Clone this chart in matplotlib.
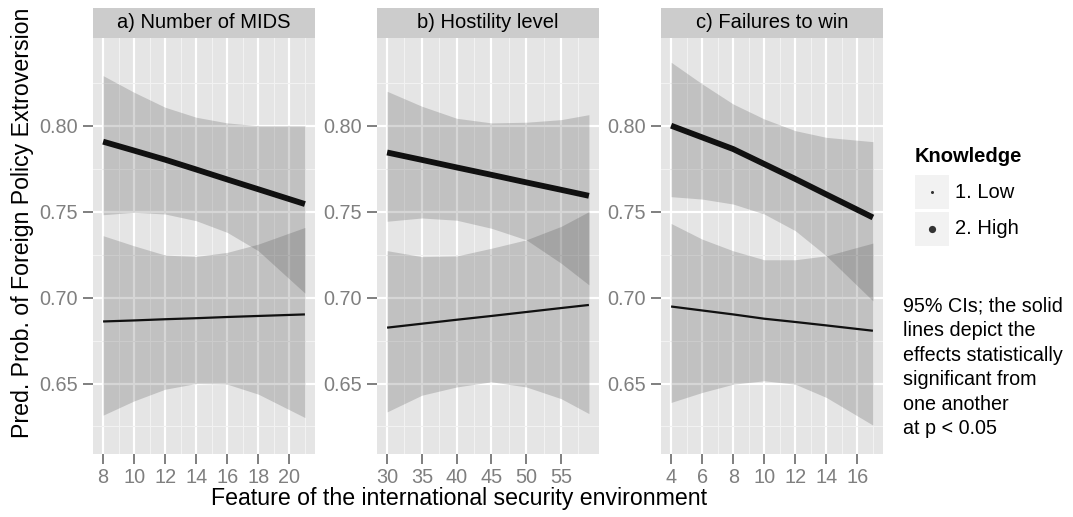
"""predicted probability of foreign policy extroversion, three facets"""

import matplotlib.pyplot as plt
from matplotlib.patches import Rectangle
from matplotlib.lines import Line2D

plt.rcParams['font.family'] = ['Liberation Sans', 'DejaVu Sans']

W, H = 1073, 517

## a) number of MIDS
mids_x = [8, 10, 12, 14, 16, 18, 21]
mids_high = [0.7907, 0.7855, 0.7802, 0.7745, 0.7687, 0.7630, 0.7544]
mids_high_hi = [0.8291, 0.8194, 0.8107, 0.8049, 0.8016, 0.8000, 0.8000]
mids_high_lo = [0.7482, 0.7496, 0.7486, 0.7447, 0.7379, 0.7272, 0.7026]
mids_low = [0.6861, 0.6867, 0.6874, 0.6880, 0.6887, 0.6893, 0.6902]
mids_low_hi = [0.7360, 0.7301, 0.7247, 0.7239, 0.7263, 0.7311, 0.7408]
mids_low_lo = [0.6316, 0.6399, 0.6467, 0.6500, 0.6496, 0.6438, 0.6302]
mids_ticks = [8, 10, 12, 14, 16, 18, 20]

## b) hostility level
host_x = [30, 35, 40, 45, 50, 55, 59]
host_high = [0.7844, 0.7801, 0.7757, 0.7714, 0.7670, 0.7627, 0.7592]
host_high_hi = [0.8200, 0.8113, 0.8043, 0.8016, 0.8020, 0.8035, 0.8064]
host_high_lo = [0.7444, 0.7463, 0.7450, 0.7403, 0.7336, 0.7200, 0.7074]
host_low = [0.6825, 0.6848, 0.6871, 0.6893, 0.6916, 0.6939, 0.6957]
host_low_hi = [0.7273, 0.7238, 0.7242, 0.7287, 0.7336, 0.7414, 0.7500]
host_low_lo = [0.6335, 0.6432, 0.6480, 0.6510, 0.6480, 0.6412, 0.6325]
host_ticks = [30, 35, 40, 45, 50, 55]

## c) failures to win
fail_x = [4, 6, 8, 10, 12, 14, 17]
fail_high = [0.8000, 0.7932, 0.7864, 0.7777, 0.7690, 0.7600, 0.7466]
fail_high_hi = [0.8369, 0.8243, 0.8126, 0.8039, 0.7971, 0.7932, 0.7907]
fail_high_lo = [0.7587, 0.7573, 0.7544, 0.7486, 0.7389, 0.7243, 0.6981]
fail_low = [0.6948, 0.6925, 0.6902, 0.6877, 0.6858, 0.6838, 0.6807]
fail_low_hi = [0.7431, 0.7340, 0.7272, 0.7220, 0.7220, 0.7243, 0.7317]
fail_low_lo = [0.6390, 0.6448, 0.6496, 0.6516, 0.6496, 0.6419, 0.6258]
fail_ticks = [4, 6, 8, 10, 12, 14, 16]

y_ticks = [0.65, 0.70, 0.75, 0.80]
y_minor = [0.625, 0.675, 0.725, 0.775, 0.825]

knowledge_labels = ["1. Low", "2. High"]
note = "95% CIs; the solid\nlines depict the\neffects statistically\nsignificant from\none another\nat p < 0.05"

GREY50 = '#7F7F7F'
LINE_COL = '#111111'
BAND_COL = '#333333'


def draw_panel(left, title, x, high, high_hi, high_lo, low, low_hi, low_lo,
               ticks, minor_step):
    """one facet, left edge in pixels"""
    top, bottom = 38, 454
    ax = fig.add_axes([left / W, 1 - bottom / H, 222 / W, (bottom - top) / H])
    ax.set_facecolor('#E5E5E5')
    for s in ax.spines.values():
        s.set_visible(False)

    ax.fill_between(x, low_lo, low_hi, color=BAND_COL, alpha=0.2, lw=0)
    ax.fill_between(x, high_lo, high_hi, color=BAND_COL, alpha=0.2, lw=0)
    ax.plot(x, low, color=LINE_COL, lw=1.6, solid_capstyle='butt')
    ax.plot(x, high, color=LINE_COL, lw=4.2, solid_capstyle='butt')

    pad = 0.05 * (x[-1] - x[0])
    ax.set_xlim(x[0] - pad, x[-1] + pad)
    ax.set_ylim(0.609, 0.851)

    minors = [t + minor_step for t in ticks]
    ax.set_xticks(ticks)
    ax.set_xticks(minors, minor=True)
    ax.set_yticks(y_ticks)
    ax.set_yticks(y_minor, minor=True)
    ax.set_yticklabels(['%.2f' % v for v in y_ticks])

    ax.set_axisbelow(True)
    ax.grid(which='major', color='white', lw=1.6)
    ax.grid(which='minor', color='#F2F2F2', lw=0.8)
    ax.tick_params(which='major', length=7.2, width=1.4, color=GREY50,
                   labelcolor=GREY50, labelsize=14.3)
    ax.tick_params(axis='x', pad=3)
    ax.tick_params(axis='y', pad=4)
    ax.tick_params(which='minor', length=0)

    # strip on top
    sh = 30 / (bottom - top)
    ax.add_patch(Rectangle((0, 1), 1, sh, transform=ax.transAxes,
                           fc='#CCCCCC', ec='none', clip_on=False))
    ax.text(0.5, 1 + sh / 2, title, transform=ax.transAxes, ha='center',
            va='center', fontsize=14.5, color='black')
    return ax


fig = plt.figure(figsize=(W / 100, H / 100), dpi=100)

draw_panel(93, "a) Number of MIDS", mids_x, mids_high, mids_high_hi,
           mids_high_lo, mids_low, mids_low_hi, mids_low_lo, mids_ticks, 1)
draw_panel(377, "b) Hostility level", host_x, host_high, host_high_hi,
           host_high_lo, host_low, host_low_hi, host_low_lo, host_ticks, 2.5)
draw_panel(661, "c) Failures to win", fail_x, fail_high, fail_high_hi,
           fail_high_lo, fail_low, fail_low_hi, fail_low_lo, fail_ticks, 1)

# axis titles
fig.text(459 / W, 1 - 498 / H, "Feature of the international security environment",
         ha='center', va='center', fontsize=16.7)
fig.text(23 / W, 1 - 223 / H, "Pred. Prob. of Foreign Policy Extroversion",
         ha='center', va='center', rotation=90, fontsize=16.7)

# legend, drawn by hand
fig.text(915 / W, 1 - 157 / H, "Knowledge", ha='left', va='center',
         fontsize=14.5, fontweight='bold')
for i, (lab, ms) in enumerate(zip(knowledge_labels, [2.2, 5.2])):
    ytop = 175 + i * 37
    fig.add_artist(Rectangle((915 / W, 1 - (ytop + 34) / H), 34 / W, 34 / H,
                             transform=fig.transFigure, fc='#F2F2F2', ec='none'))
    fig.add_artist(Line2D([932 / W], [1 - (ytop + 17) / H], marker='o',
                          ms=ms, color='#333333', mec='none',
                          transform=fig.transFigure))
    fig.text(955 / W, 1 - (ytop + 17) / H, lab, ha='left', va='center',
             fontsize=14.5)

fig.text(903 / W, 1 - 297 / H, note, ha='left', va='top', fontsize=14.2,
         linespacing=1.36)

plt.savefig('out.png', dpi=100)
